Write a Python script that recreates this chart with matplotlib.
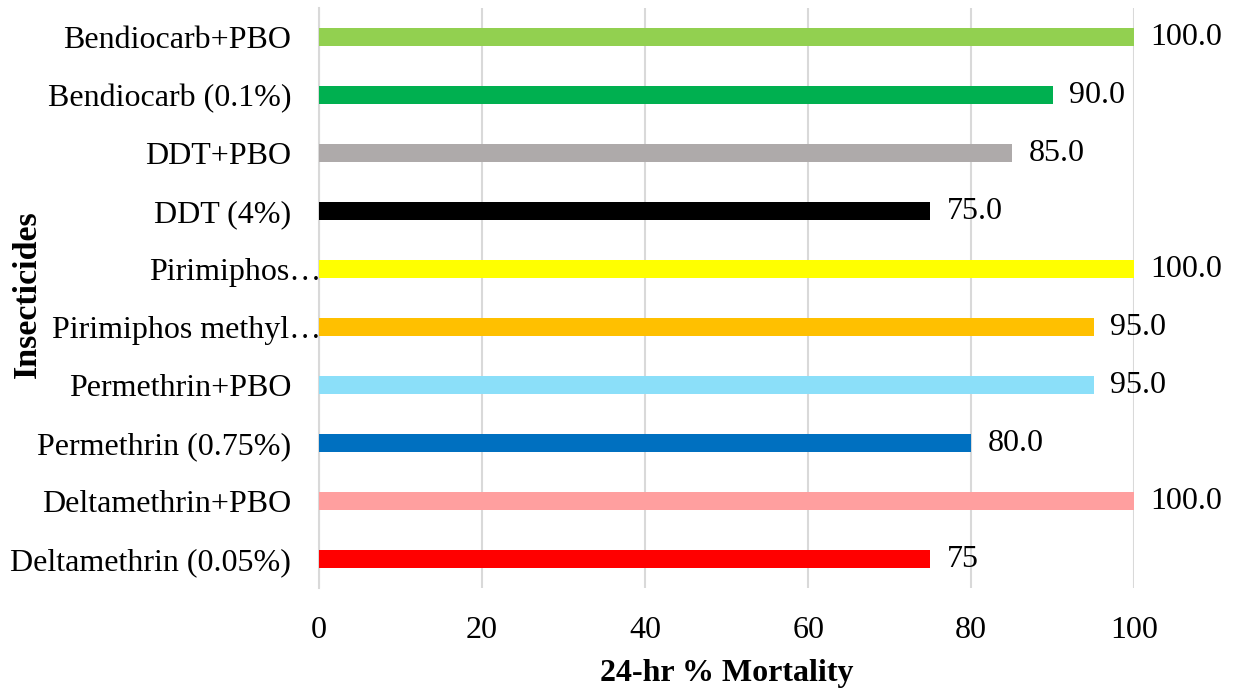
import matplotlib as mpl
mpl.use('Agg')
import matplotlib.pyplot as plt
from matplotlib.transforms import ScaledTranslation

# insecticide bioassay results, bottom to top
insecticides = ['Deltamethrin (0.05%)', 'Deltamethrin+PBO', 'Permethrin (0.75%)',
                'Permethrin+PBO', 'Pirimiphos methyl\u2026', 'Pirimiphos\u2026',
                'DDT (4%)', 'DDT+PBO', 'Bendiocarb (0.1%)', 'Bendiocarb+PBO']
mortality = [75, 100, 80, 95, 95, 100, 75, 85, 90, 100]
value_labels = ['75', '100.0', '80.0', '95.0', '95.0', '100.0', '75.0', '85.0', '90.0', '100.0']
colors = ['#FF0000', '#FF9F9F', '#0070C0', '#8BDFF9', '#FFC000',
          '#FFFF00', '#000000', '#AEAAAA', '#00B050', '#92D050']

plt.rcParams['font.family'] = ['Liberation Serif', 'DejaVu Serif']
FS = 23

fig = plt.figure(figsize=(12.41, 6.92), dpi=100)
ax = fig.add_axes([0.257, 0.150, 0.657, 0.838])

ypos = range(len(insecticides))
ax.barh(ypos, mortality, height=0.31, color=colors, zorder=3)
for y, v, t in zip(ypos, mortality, value_labels):
    ax.text(v + 2.0, y, t, va='center', ha='left', fontsize=FS)

ax.set_xlim(0, 100)
ax.set_ylim(-0.5, len(insecticides) - 0.5)
ax.set_xticks([0, 20, 40, 60, 80, 100])
ax.set_yticks(list(ypos))
ax.set_yticklabels(insecticides)
ax.tick_params(axis='both', length=0, labelsize=FS)
ax.tick_params(axis='y', pad=20)
ax.tick_params(axis='x', pad=20)
ax.grid(axis='x', color='#D9D9D9', linewidth=1.5, zorder=0)
for s in ['top', 'right', 'bottom']:
    ax.spines[s].set_visible(False)
ax.spines['left'].set_color('#D9D9D9')
ax.spines['left'].set_linewidth(1.5)

# truncated labels run right up to the axis
shift = ScaledTranslation(0.30, 0, fig.dpi_scale_trans)
for lab in ax.get_yticklabels():
    if lab.get_text().endswith('\u2026'):
        lab.set_transform(lab.get_transform() + shift)

ax.set_xlabel('24-hr % Mortality', fontsize=FS, fontweight='bold', labelpad=10)
fig.text(27 / 1241, 1 - 294 / 692, 'Insecticides', fontsize=24.5, fontweight='bold',
         rotation=90, ha='center', va='center')

fig.savefig('out.png', dpi=100)
